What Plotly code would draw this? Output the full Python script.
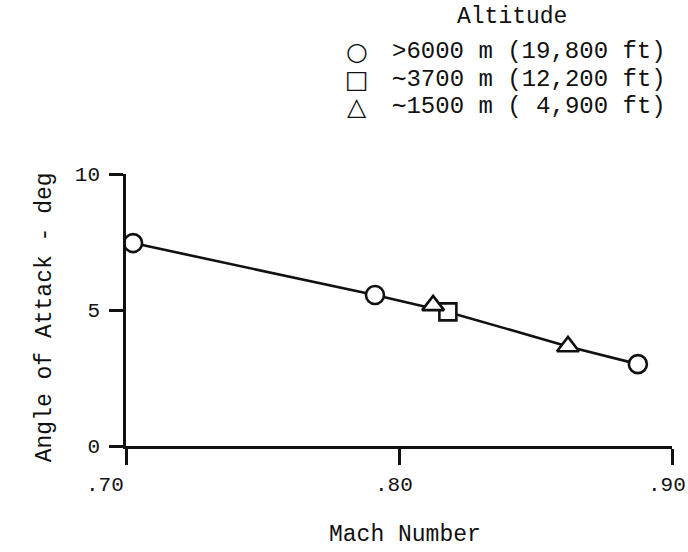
import plotly.graph_objects as go

# Data
mach_6000 = [0.7026, 0.7912, 0.8875]
aoa_6000 = [7.46, 5.55, 3.01]
mach_3700 = [0.8179]
aoa_3700 = [4.93]
mach_1500 = [0.8125, 0.8619]
aoa_1500 = [5.17, 3.66]
fair_mach = [0.7026, 0.7912, 0.8179, 0.8619, 0.8875]
fair_aoa = [7.46, 5.55, 4.93, 3.66, 3.01]

x_ticks = [0.70, 0.80, 0.90]
x_ticklabels = [".70", ".80", ".90"]
x_label_shift = [-21, -5, -5]
y_ticks = [0, 5, 10]
y_ticklabels = ["0", "5", "10"]

legend_title = "Altitude"
legend_symbols = ["○", "□", "△"]
legend_labels = [">6000 m (19,800 ft)", "∼3700 m (12,200 ft)", "∼1500 m ( 4,900 ft)"]

FONT = "Liberation Mono, DejaVu Sans Mono, monospace"
BLACK = "#111111"

fig = go.Figure()
fig.add_trace(go.Scatter(x=fair_mach, y=fair_aoa, mode="lines",
                         line=dict(color=BLACK, width=2.6), showlegend=False,
                         hoverinfo="skip"))
mk = dict(color="white", line=dict(color=BLACK, width=2.6))
fig.add_trace(go.Scatter(x=mach_6000, y=aoa_6000, mode="markers", name=legend_labels[0],
                         marker=dict(symbol="circle", size=18, **mk)))
fig.add_trace(go.Scatter(x=mach_3700, y=aoa_3700, mode="markers", name=legend_labels[1],
                         marker=dict(symbol="square", size=17, **mk)))
fig.add_trace(go.Scatter(x=mach_1500, y=aoa_1500, mode="markers", name=legend_labels[2],
                         marker=dict(symbol="triangle-up", size=19, **mk)))

annotations = [
    dict(text=legend_title, x=0.707, y=1.577, xref="paper", yref="paper",
         xanchor="center", yanchor="middle", showarrow=False,
         font=dict(family=FONT, size=23, color=BLACK)),
    dict(text="Mach Number", x=0.511, y=-0.327, xref="paper", yref="paper",
         xanchor="center", yanchor="middle", showarrow=False,
         font=dict(family=FONT, size=23, color=BLACK)),
    dict(text="Angle of Attack - deg", x=-0.148, y=0.474, xref="paper",
         yref="paper", xanchor="center", yanchor="middle", textangle=-90,
         showarrow=False, font=dict(family=FONT, size=23, color=BLACK)),
]
# x tick labels placed at the axis tick values (typewritten offsets)
for tv, tl, sh in zip(x_ticks, x_ticklabels, x_label_shift):
    annotations.append(dict(text=tl, x=tv, xref="x", y=0, yref="paper",
                            xanchor="center", yanchor="middle", xshift=sh,
                            yshift=-39, showarrow=False,
                            font=dict(family=FONT, size=21, color=BLACK)))
row_y = [1.449, 1.349, 1.250]
for sym, lab, yy in zip(legend_symbols, legend_labels, row_y):
    annotations.append(dict(text=sym, x=0.423, y=yy, xref="paper", yref="paper",
                            xanchor="center", yanchor="middle", height=25,
                            valign="middle", showarrow=False,
                            font=dict(family="DejaVu Sans", size=25, color=BLACK)))
    annotations.append(dict(text=lab, x=0.483, y=yy, xref="paper", yref="paper",
                            xanchor="left", yanchor="middle", height=25,
                            valign="middle", showarrow=False,
                            font=dict(family=FONT, size=24, color=BLACK)))

fig.update_layout(
    width=688, height=552,
    margin=dict(l=126, r=16, t=174, b=106, autoexpand=False),
    paper_bgcolor="white", plot_bgcolor="white",
    font=dict(family=FONT, size=21, color=BLACK),
    xaxis=dict(range=[0.70, 0.90], tickvals=x_ticks, showticklabels=False,
               showgrid=False, zeroline=False, showline=True, linecolor=BLACK,
               linewidth=2.6, ticks="outside", ticklen=16, tickwidth=2.6,
               tickcolor=BLACK, automargin=False),
    yaxis=dict(range=[0, 10], tickvals=y_ticks, ticktext=y_ticklabels,
               showgrid=False, zeroline=False, showline=True, linecolor=BLACK,
               linewidth=2.6, ticks="outside", ticklen=14, tickwidth=2.6,
               tickcolor=BLACK, ticklabelstandoff=5, automargin=False),
    showlegend=False,
    annotations=annotations,
)

fig.write_html("out.html", config={"displayModeBar": False},
               post_script="document.body.style.margin='0';")
